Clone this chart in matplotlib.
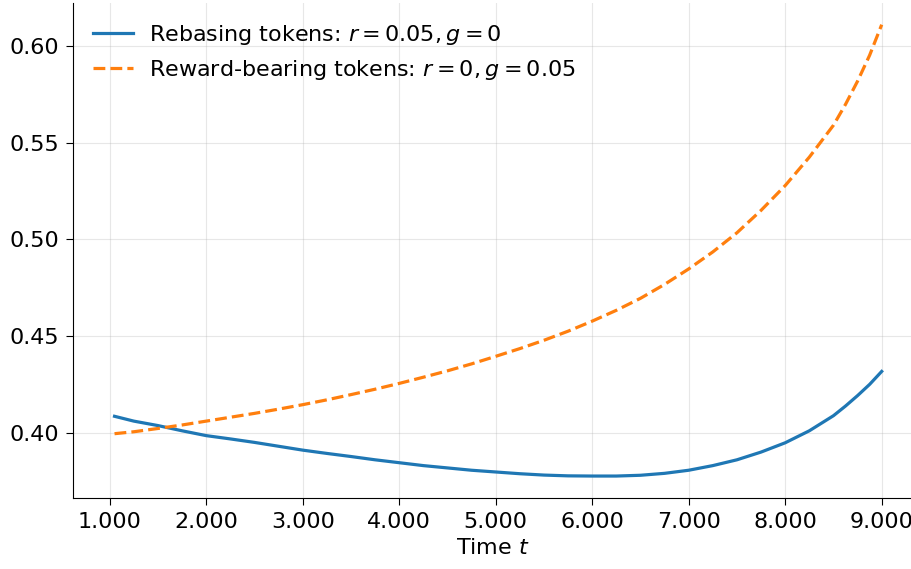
import matplotlib
matplotlib.use("Agg")
import matplotlib.pyplot as plt
from matplotlib.ticker import StrMethodFormatter

# time grid and the two curves
t = [1.05, 1.25, 1.5, 1.75, 2.0, 2.25, 2.5, 2.75, 3.0, 3.25, 3.5, 3.75,
     4.0, 4.25, 4.5, 4.75, 5.0, 5.25, 5.5, 5.75, 6.0, 6.25, 6.5, 6.75,
     7.0, 7.25, 7.5, 7.75, 8.0, 8.25, 8.5, 8.625, 8.75, 8.875, 9.0]

rebasing = [0.4085, 0.4060, 0.4037, 0.4010, 0.3985, 0.3968, 0.3950, 0.3930,
            0.3910, 0.3893, 0.3877, 0.3860, 0.3845, 0.3830, 0.3818, 0.3806,
            0.3797, 0.3788, 0.3781, 0.3777, 0.3776, 0.3776, 0.3780, 0.3790,
            0.3806, 0.3830, 0.3860, 0.3900, 0.3948, 0.4010, 0.4088, 0.4138,
            0.4192, 0.4250, 0.4317]

reward = [0.3995, 0.4005, 0.4022, 0.4040, 0.4060, 0.4080, 0.4100, 0.4122,
          0.4145, 0.4170, 0.4197, 0.4225, 0.4255, 0.4287, 0.4320, 0.4356,
          0.4395, 0.4435, 0.4478, 0.4525, 0.4577, 0.4633, 0.4695, 0.4767,
          0.4847, 0.4935, 0.5034, 0.5150, 0.5278, 0.5425, 0.5590, 0.5698,
          0.5818, 0.5952, 0.6110]

labels = ["Rebasing tokens: $r = 0.05, g = 0$",
          "Reward-bearing tokens: $r = 0, g = 0.05$"]

fig = plt.figure(figsize=(9.12, 5.69), dpi=100)
ax = fig.add_axes([0.0804, 0.1253, 0.9196, 0.8694])

ax.plot(t, rebasing, color="C0", lw=2.3, label=labels[0])
ax.plot(t, reward, color="C1", lw=2.3, ls="--", label=labels[1])

ax.set_xlim(0.623, 9.314)
ax.set_ylim(0.3664, 0.6222)
ax.xaxis.set_major_formatter(StrMethodFormatter("{x:.3f}"))
ax.set_xlabel("Time $t$", fontsize=16, labelpad=4)
ax.tick_params(labelsize=16, length=4.8, pad=5.5)
ax.grid(alpha=0.3)
ax.spines["top"].set_visible(False)
ax.spines["right"].set_visible(False)
ax.legend(loc="upper left", frameon=False, fontsize=16,
          handlelength=1.8, handletextpad=0.7)

fig.savefig("out.png", dpi=100)
